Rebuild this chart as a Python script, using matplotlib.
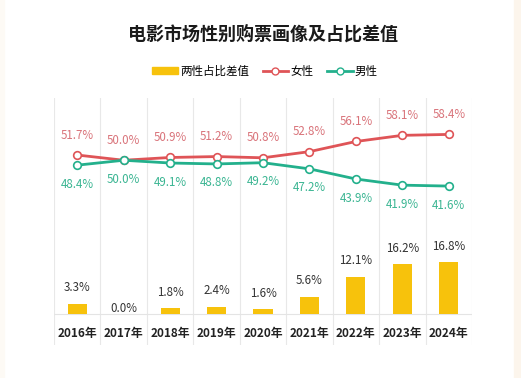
import numpy as np
import matplotlib.pyplot as plt
from matplotlib.patches import Patch, Rectangle
from matplotlib.lines import Line2D

plt.rcParams['font.family'] = ['Noto Sans CJK SC', 'DejaVu Sans']

years = ['2016年', '2017年', '2018年', '2019年', '2020年', '2021年', '2022年', '2023年', '2024年']
female = [51.7, 50.0, 50.9, 51.2, 50.8, 52.8, 56.1, 58.1, 58.4]
male = [48.4, 50.0, 49.1, 48.8, 49.2, 47.2, 43.9, 41.9, 41.6]
diff = [3.3, 0.0, 1.8, 2.4, 1.6, 5.6, 12.1, 16.2, 16.8]

bar_c = '#f7c20c'
red = '#df5457'
red_txt = '#d9737a'
teal = '#23b08c'
teal_txt = '#3ab592'

W, H = 521, 378
fig = plt.figure(figsize=(W / 100, H / 100), dpi=100)
fig.patch.set_facecolor('white')
# faint cream frame on the sides
fig.patches.append(Rectangle((0, 0), 4 / W, 1, transform=fig.transFigure, color='#fdfaf5', zorder=0))
fig.patches.append(Rectangle((1 - 7 / W, 0), 7 / W, 1, transform=fig.transFigure, color='#fcf5ec', zorder=0))

left, right, top, bot = 54, 472, 98, 345
ax = fig.add_axes([left / W, 1 - bot / H, (right - left) / W, (bot - top) / H])
k = 3.075
ax.set_ylim(-(bot - 314) / k, (314 - top) / k)
ax.set_xlim(-0.5, 8.5)
ax.axis('off')

x = np.arange(len(years))
for b in np.arange(-0.5, 9.0, 1.0):
    ax.axvline(b, color='#e8e8e8', lw=0.8, zorder=0)
ax.axhline(0, color='#e4e4e4', lw=0.8, zorder=0)

ax.bar(x, diff, width=0.41, color=bar_c, zorder=2)
for xi, v in zip(x, diff):
    off = 16 if v > 0 else 5
    ax.annotate(f'{v:.1f}%', (xi, v), xytext=(0, off), textcoords='offset pixels',
                ha='center', va='center', fontsize=8.3, color='#333333')

ax.plot(x, female, color=red, lw=2, marker='o', ms=5.5, mfc='white', mec=red, mew=1.2, zorder=3)
ax.plot(x, male, color=teal, lw=2, marker='o', ms=5.5, mfc='white', mec=teal, mew=1.2, zorder=3)
for xi, v in zip(x, female):
    ax.annotate(f'{v:.1f}%', (xi, v), xytext=(0, 20), textcoords='offset pixels',
                ha='center', va='center', fontsize=8.3, color=red_txt)
for xi, v in zip(x, male):
    ax.annotate(f'{v:.1f}%', (xi, v), xytext=(0, -19), textcoords='offset pixels',
                ha='center', va='center', fontsize=8.3, color=teal_txt)

for xi, yr in zip(x, years):
    ax.text(xi, -(333 - 314) / k, yr, ha='center', va='center', fontsize=8.5,
            fontweight='bold', color='#222222')

fig.text(263 / W, 1 - 34 / H, '电影市场性别购票画像及占比差值', ha='center', va='center',
         fontsize=13, fontweight='bold', color='#1a1a1a')

handles = [Patch(color=bar_c),
           Line2D([], [], color=red, lw=2, marker='o', ms=5, mfc='white', mec=red),
           Line2D([], [], color=teal, lw=2, marker='o', ms=5, mfc='white', mec=teal)]
fig.legend(handles, ['两性占比差值', '女性', '男性'], loc='center', ncol=3,
           bbox_to_anchor=(265 / W, 1 - 71 / H), frameon=False, fontsize=8.3,
           handlelength=2.2, handleheight=0.6, handletextpad=0.2, columnspacing=1.2)

fig.savefig('out.png', dpi=100)
